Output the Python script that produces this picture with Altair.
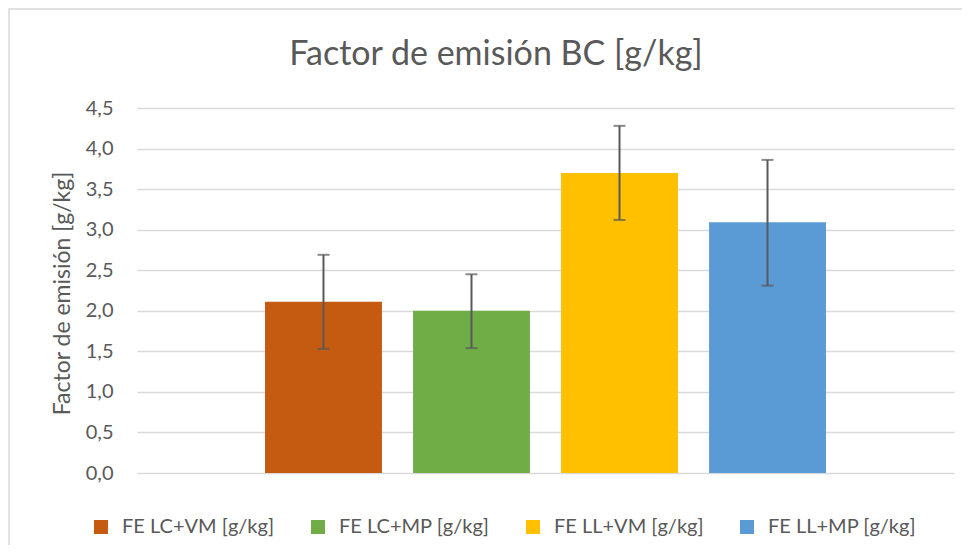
import altair as alt
import pandas as pd

series = ["FE LC+VM [g/kg]", "FE LC+MP [g/kg]", "FE LL+VM [g/kg]", "FE LL+MP [g/kg]"]
values = [2.11, 2.00, 3.70, 3.09]
err_low = [1.53, 1.54, 3.12, 2.31]
err_high = [2.69, 2.45, 4.28, 3.86]
colors = ["#C55A11", "#70AD47", "#FFC000", "#5B9BD5"]
title_text = "Factor de emisión BC [g/kg]"

df = pd.DataFrame({"serie": series, "valor": values, "lo": err_low, "hi": err_high})

FONT = "Lato"
GREY = "#595959"

x_enc = alt.X("serie:N", sort=series, axis=None,
              scale=alt.Scale(paddingInner=0.21, paddingOuter=0.865))

bars = alt.Chart(df).mark_bar().encode(
    x=x_enc,
    y=alt.Y("valor:Q",
            scale=alt.Scale(domain=[0, 4.5], nice=False),
            axis=alt.Axis(values=[0, 0.5, 1, 1.5, 2, 2.5, 3, 3.5, 4, 4.5],
                          labelExpr="replace(format(datum.value, '.1f'), '.', ',')",
                          title="Factor de emisión [g/kg]",
                          titleFont=FONT, titleFontSize=23, titleFontWeight="normal",
                          titleColor=GREY, titleAngle=270, titleX=-75, titleY=185,
                          titleAlign="center", titleBaseline="middle",
                          labelFont=FONT, labelFontSize=20, labelColor=GREY,
                          labelPadding=24, ticks=False, domain=False,
                          grid=True, gridColor="#D9D9D9", gridWidth=1.5)),
    color=alt.Color("serie:N", sort=series,
                    scale=alt.Scale(domain=series, range=colors),
                    legend=alt.Legend(title=None, orient="none", direction="horizontal",
                                      columns=4, legendX=-46, legendY=409,
                                      symbolType="square", symbolSize=196,
                                      symbolStrokeWidth=0, labelFont=FONT,
                                      labelFontSize=20, labelColor=GREY,
                                      labelOffset=11, columnPadding=33)),
)

rules = alt.Chart(df).mark_rule(color=GREY, strokeWidth=2).encode(
    x=alt.X("serie:N", sort=series, axis=None), y="lo:Q", y2="hi:Q")

caps_lo = alt.Chart(df).mark_tick(color=GREY, thickness=2, size=12, orient="horizontal").encode(
    x=alt.X("serie:N", sort=series, axis=None), y="lo:Q")
caps_hi = alt.Chart(df).mark_tick(color=GREY, thickness=2, size=12, orient="horizontal").encode(
    x=alt.X("serie:N", sort=series, axis=None), y="hi:Q")

frame = alt.Chart(pd.DataFrame({"f": [0]})).mark_rect(
    fill=None, stroke="#D9D9D9", strokeWidth=1.5).encode(
    x=alt.value(-128), x2=alt.value(850), y=alt.value(-99), y2=alt.value(460))

title = alt.Chart(pd.DataFrame({"t": [title_text]})).mark_text(
    font=FONT, fontSize=34, color=GREY, align="center", baseline="alphabetic").encode(
    text="t:N", x=alt.value(359), y=alt.value(-43))

chart = alt.layer(frame, bars, rules, caps_lo, caps_hi, title).properties(
    width=817, height=365,
    padding={"left": 129, "top": 100, "right": 8, "bottom": 72},
    autosize=alt.AutoSizeParams(type="none"),
    background="white",
).configure_view(stroke=None)

chart.save("out.html", embed_options={"renderer": "svg", "actions": False})
